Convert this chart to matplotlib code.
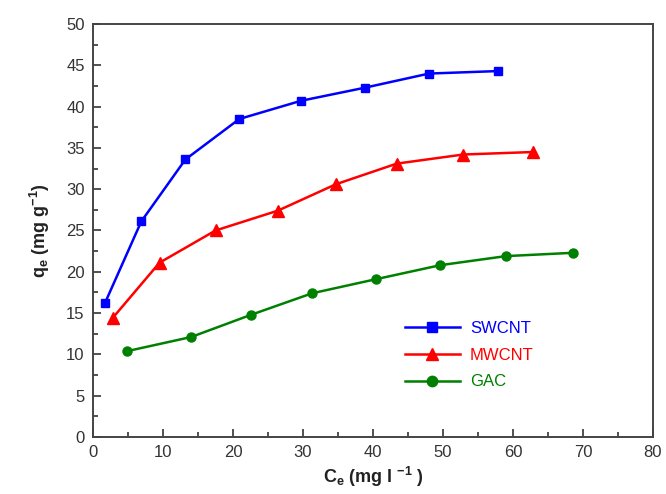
import matplotlib
matplotlib.use("Agg")
import matplotlib.pyplot as plt
from matplotlib.ticker import MultipleLocator

plt.rcParams['font.family'] = ['Liberation Sans', 'DejaVu Sans']
plt.rcParams['mathtext.fontset'] = 'custom'
plt.rcParams['mathtext.rm'] = 'Liberation Sans'
plt.rcParams['mathtext.it'] = 'Liberation Sans:italic'
plt.rcParams['mathtext.bf'] = 'Liberation Sans:bold'

# Adsorption isotherm data: equilibrium concentration Ce (mg/l) vs uptake qe (mg/g)
swcnt_ce = [1.7, 6.9, 13.2, 20.9, 29.7, 38.9, 48.0, 57.8]
swcnt_qe = [16.2, 26.1, 33.6, 38.5, 40.7, 42.3, 44.0, 44.3]

mwcnt_ce = [2.8, 9.5, 17.5, 26.4, 34.7, 43.4, 52.9, 62.8]
mwcnt_qe = [14.4, 21.1, 25.0, 27.4, 30.6, 33.1, 34.2, 34.5]

gac_ce = [4.9, 14.0, 22.6, 31.3, 40.4, 49.6, 59.0, 68.6]
gac_qe = [10.4, 12.1, 14.8, 17.4, 19.1, 20.8, 21.9, 22.3]

series = [
    ("SWCNT", swcnt_ce, swcnt_qe, "#0000ff", "s", 5.8),
    ("MWCNT", mwcnt_ce, mwcnt_qe, "#ff0000", "^", 8.0),
    ("GAC", gac_ce, gac_qe, "#008000", "o", 6.5),
]

fig = plt.figure(figsize=(6.66, 4.94), dpi=100)
ax = fig.add_axes([93 / 666, 1 - 437 / 494, 560 / 666, 413 / 494])

for name, x, y, color, marker, ms in series:
    ax.plot(x, y, color=color, marker=marker, markersize=ms, linewidth=1.8,
            label=name)

ax.set_xlim(0, 80)
ax.set_ylim(0, 50)
ax.xaxis.set_major_locator(MultipleLocator(10))
ax.xaxis.set_minor_locator(MultipleLocator(5))
ax.yaxis.set_major_locator(MultipleLocator(5))
ax.yaxis.set_minor_locator(MultipleLocator(2.5))
ax.tick_params(which='both', direction='in', top=False, right=False,
               colors='#333333', width=1.2, labelsize=12, labelcolor='#333333')
ax.tick_params(which='major', length=6, pad=6)
ax.tick_params(which='minor', length=3.5)
for sp in ax.spines.values():
    sp.set_color('#444444')
    sp.set_linewidth(1.4)

ax.set_xlabel(r'$\mathbf{C_e}$' + ' (mg l ' + r'$\mathbf{^{-1}}$' + ' )',
              fontsize=13, fontweight='bold', color='#222222', labelpad=3)
ax.set_ylabel(r'$\mathbf{q_e}$' + ' (mg g' + r'$\mathbf{^{-1}}$' + ')',
              fontsize=13, fontweight='bold', color='#222222', labelpad=10)

leg = ax.legend(loc='upper left', bbox_to_anchor=(0.53, 0.317), frameon=False,
                fontsize=12, handlelength=3.3, handletextpad=0.6,
                labelspacing=0.7, markerscale=1.15)
for text, (_, _, _, color, _, _) in zip(leg.get_texts(), series):
    text.set_color(color)

fig.savefig("out.png", dpi=100)
